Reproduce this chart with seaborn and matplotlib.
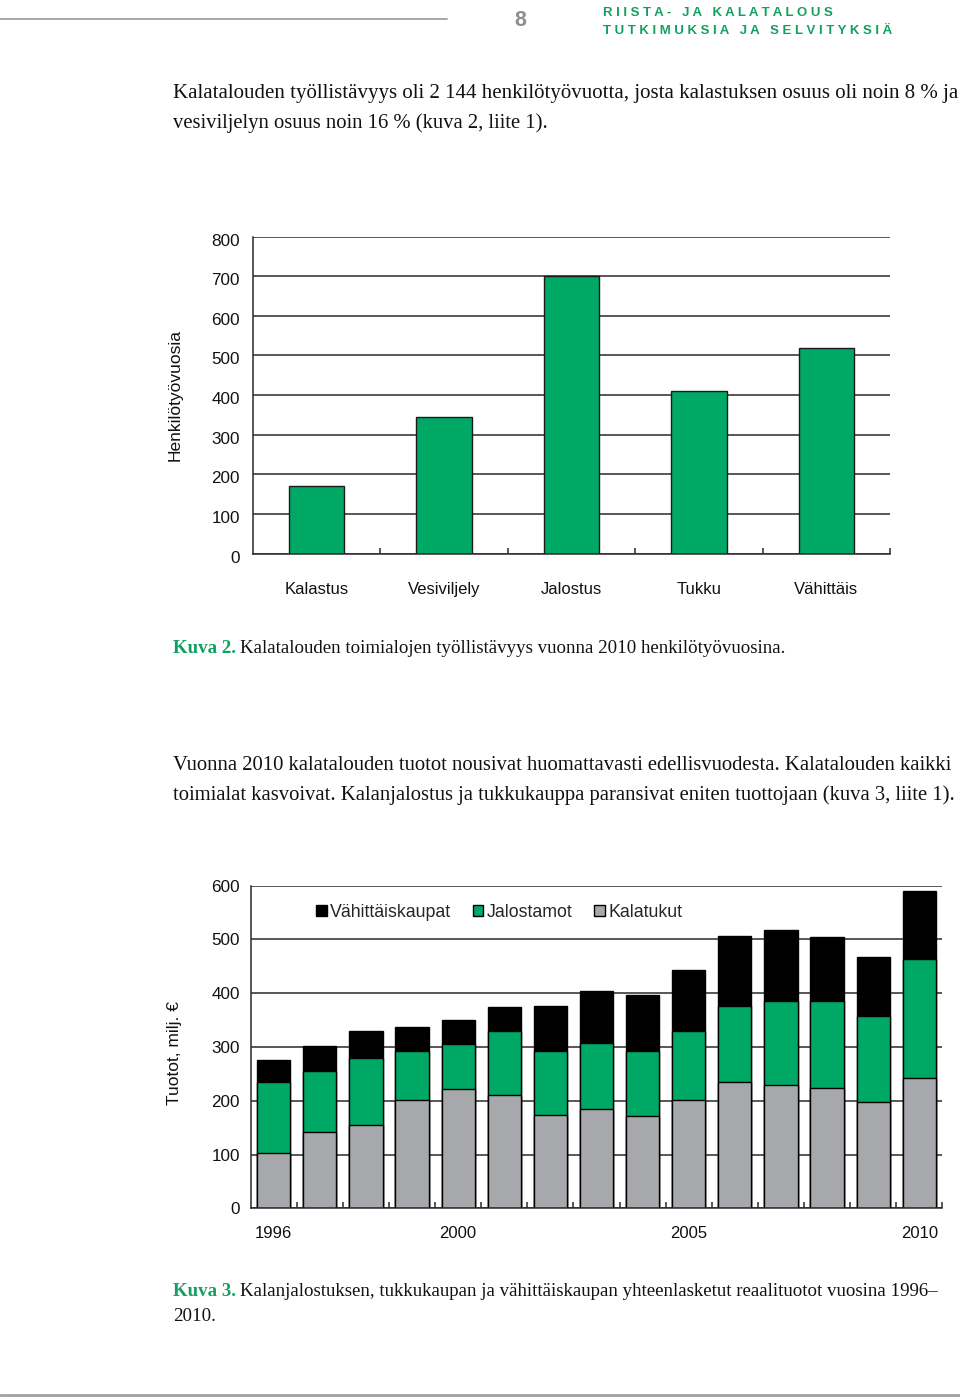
import matplotlib
matplotlib.use("Agg")
import matplotlib.pyplot as plt
import matplotlib.transforms as mtransforms
import seaborn as sns
import pandas as pd
from matplotlib.lines import Line2D

# ---------------- data ----------------
emp_categories = ["Kalastus", "Vesiviljely", "Jalostus", "Tukku", "Vähittäis"]
emp_values = [171, 344, 701, 410, 518]

years = [str(y) for y in range(1996, 2011)]
kalatukut = [103, 141, 154, 201, 221, 211, 173, 185, 172, 201, 235, 229, 224, 198, 243]
jalostamot = [132, 114, 126, 91, 84, 119, 120, 123, 121, 129, 142, 157, 161, 159, 221]
vahittais = [41, 47, 49, 46, 45, 44, 83, 97, 103, 113, 130, 132, 120, 110, 126]
year_tick_labels = ["1996", "2000", "2005", "2010"]
series_names = ["Vähittäiskaupat", "Jalostamot", "Kalatukut"]

header1 = "RIISTA- JA KALATALOUS"
header2 = "TUTKIMUKSIA JA SELVITYKSIÄ"
page_no = "8"
para1 = ["Kalatalouden työllistävyys oli 2 144 henkilötyövuotta, josta kalastuksen osuus oli noin 8 % ja",
         "vesiviljelyn osuus noin 16 % (kuva 2, liite 1)."]
cap2 = ("Kuva 2.", "Kalatalouden toimialojen työllistävyys vuonna 2010 henkilötyövuosina.")
para2 = ["Vuonna 2010 kalatalouden tuotot nousivat huomattavasti edellisvuodesta. Kalatalouden kaikki",
         "toimialat kasvoivat. Kalanjalostus ja tukkukauppa paransivat eniten tuottojaan (kuva 3, liite 1)."]
cap3 = ("Kuva 3.", "Kalanjalostuksen, tukkukaupan ja vähittäiskaupan yhteenlasketut reaalituotot vuosina 1996–",
        "2010.")

# ---------------- style ----------------
GREEN = "#00A865"
GRAY = "#A6A8AB"
TXTGREEN = "#12A060"
LINE = "#2a2a2a"
sns.set_style("white")
plt.rcParams["font.family"] = ["Liberation Sans", "DejaVu Sans"]
SERIF = ["Liberation Serif", "DejaVu Serif"]

W, H = 960, 1400
fig = plt.figure(figsize=(W / 100, H / 100), dpi=100)
fig.patch.set_facecolor("white")


def fx(x):
    return x / W


def fy(y):
    return 1 - y / H


def style_axis(ax, n, tick_pad_x, tick_pad_y, ylab_shift=0.0):
    for s in ["top", "right"]:
        ax.spines[s].set_visible(False)
    for s in ["left", "bottom"]:
        ax.spines[s].set_color(LINE)
        ax.spines[s].set_linewidth(1.1)
    ax.set_axisbelow(True)
    ax.yaxis.grid(True, color=LINE, linewidth=1.1)
    ax.xaxis.grid(False)
    ax.set_xlim(-0.5, n - 0.5)
    ax.set_xticks([i + 0.5 for i in range(n)], minor=True)
    ax.tick_params(axis="x", which="minor", direction="in", length=4, width=1.1, color=LINE, bottom=True)
    ax.tick_params(axis="x", which="major", length=0, pad=tick_pad_x, labelsize=12, labelcolor="#111111")
    ax.tick_params(axis="y", which="major", length=0, pad=tick_pad_y, labelsize=12.3, labelcolor="#111111")
    ax.set_xlabel("")
    if ylab_shift:
        shift = mtransforms.ScaledTranslation(0, -ylab_shift / 72, fig.dpi_scale_trans)
        for lbl in ax.get_yticklabels():
            lbl.set_transform(lbl.get_transform() + shift)


# ---------------- chart 1 ----------------
ax1 = fig.add_axes([fx(253), fy(553.5), (890 - 253) / W, (553.5 - 236.5) / H])
df1 = pd.DataFrame({"cat": emp_categories, "val": emp_values})
sns.barplot(data=df1, x="cat", y="val", color=GREEN, saturation=1, width=0.435,
            edgecolor="#1a1a1a", linewidth=1.0, errorbar=None, ax=ax1)
ax1.set_ylim(0, 800)
ax1.set_yticks(range(0, 801, 100))
style_axis(ax1, len(emp_categories), 20.5, 9.4, ylab_shift=2.2)
ax1.set_ylabel("Henkilötyövuosia", fontsize=12.5, color="#111111")
ax1.yaxis.set_label_coords(-0.111, 0.5)

# ---------------- chart 2 ----------------
ax2 = fig.add_axes([fx(250.7), fy(1208.3), (942.3 - 250.7) / W, (1208.3 - 885.7) / H])
df2 = pd.DataFrame({"year": years, "k": kalatukut, "j": jalostamot, "v": vahittais})
df2["kj"] = df2["k"] + df2["j"]
df2["total"] = df2["kj"] + df2["v"]
for col, c, name in [("total", "black", series_names[0]), ("kj", GREEN, series_names[1]),
                     ("k", GRAY, series_names[2])]:
    sns.barplot(data=df2, x="year", y=col, color=c, saturation=1, width=0.72,
                edgecolor="black", linewidth=1.0, errorbar=None, label=name, ax=ax2)
ax2.set_ylim(0, 600)
ax2.set_yticks(range(0, 601, 100))
ax2.set_xticks([years.index(t) for t in year_tick_labels])
ax2.set_xticklabels(year_tick_labels)
style_axis(ax2, len(years), 12.5, 7.7)
ax2.set_ylabel("Tuotot, milj. €", fontsize=12.5, color="#111111")
ax2.yaxis.set_label_coords(-0.0993, 0.481)
ax2.legend(loc="center left", bbox_to_anchor=(0.084, 0.917), ncol=3, frameon=False,
           handlelength=0.6, handleheight=0.6, handletextpad=0.2, columnspacing=1.2,
           fontsize=12.8, borderaxespad=0)

# ---------------- page texts ----------------
fig.canvas.draw()
renderer = fig.canvas.get_renderer()


def width_of(s, size, **kw):
    t = fig.text(0, 0, s, fontsize=size, **kw)
    w = t.get_window_extent(renderer).width
    t.remove()
    return w


def fit(s, target, **kw):
    return 14 * target / width_of(s, 14, **kw)


def spaced(s):
    return " ".join(list(s))


# header
fig.add_artist(Line2D([0, fx(447)], [fy(19), fy(19)], color="#a0a0a0", lw=1.3))
fig.add_artist(Line2D([0, 1], [fy(1395), fy(1395)], color="#a0a0a0", lw=2.0))
fig.text(fx(520), fy(20), page_no, fontsize=15.5, fontweight="bold", color="#8f8f8f", ha="center", va="center")
h2 = spaced(header2)
hsize = fit(h2, 292, fontweight="bold")
fig.text(fx(603), fy(15.5), spaced(header1), fontsize=hsize, fontweight="bold", color=TXTGREEN, va="baseline")
fig.text(fx(603), fy(34.5), h2, fontsize=hsize, fontweight="bold", color=TXTGREEN, va="baseline")

# body text size from the justified full lines
sizes = [fit(para1[0], 785, family=SERIF), fit(para2[0], 785, family=SERIF), fit(para2[1], 785, family=SERIF)]
bsize = sum(sizes) / len(sizes)

X0 = 173


def body(y, s, size=None):
    fig.text(fx(X0), fy(y), s, fontsize=size or bsize, family=SERIF, color="#111111", va="baseline")


body(98, para1[0], sizes[0])
body(128, para1[1])
body(770, para2[0], sizes[1])
body(800, para2[1], sizes[2])


def caption(y, lead, rest, size):
    t = fig.text(fx(X0), fy(y), lead, fontsize=size, family=SERIF, fontweight="bold",
                 color=TXTGREEN, va="baseline")
    w = t.get_window_extent(renderer).width
    fig.text(fx(X0 + w + size * 0.3), fy(y), rest, fontsize=size, family=SERIF,
             color="#111111", va="baseline")


# caption size fitted so that the first line of caption 3 spans 173..940
w14 = width_of(cap3[0], 14, family=SERIF, fontweight="bold") + 14 * 0.3 + width_of(cap3[1], 14, family=SERIF)
csize = 14 * 767 / w14
caption(653, cap2[0], cap2[1], csize)
caption(1296, cap3[0], cap3[1], csize)
body(1321, cap3[2], csize)

fig.savefig("out.png", dpi=100, facecolor="white")
